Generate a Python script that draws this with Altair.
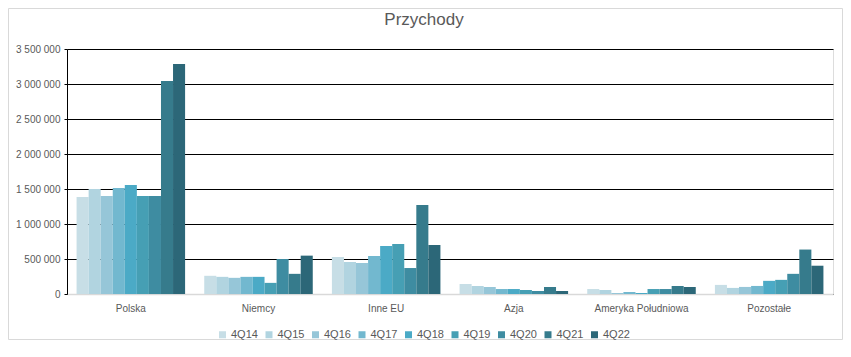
import altair as alt
import pandas as pd

categories = ["Polska", "Niemcy", "Inne EU", "Azja", "Ameryka Południowa", "Pozostałe"]
periods = ["4Q14", "4Q15", "4Q16", "4Q17", "4Q18", "4Q19", "4Q20", "4Q21", "4Q22"]
colors = ["#C7DEE6", "#B1D4E0", "#96C6D8", "#72B8CF", "#4BAAC6", "#469FB4", "#3E8CA1", "#367B8C", "#2C6778"]
title_text = ["Przychody"]

polska = [1386000, 1500000, 1400000, 1514000, 1557000, 1400000, 1400000, 3043000, 3286000]
niemcy = [260000, 245000, 231000, 245000, 245000, 159000, 500000, 288000, 548000]
inne_eu = [529000, 457000, 443000, 543000, 686000, 714000, 371000, 1271000, 700000]
azja = [143000, 114000, 100000, 71000, 71000, 57000, 43000, 100000, 43000]
ameryka = [71000, 57000, 14000, 29000, 14000, 71000, 71000, 114000, 100000]
pozostale = [130000, 87000, 101000, 115000, 188000, 202000, 288000, 635000, 404000]

series = [polska, niemcy, inne_eu, azja, ameryka, pozostale]
rows = []
for cat, vals in zip(categories, series):
    for p, v in zip(periods, vals):
        rows.append({"region": cat, "okres": p, "wartosc": v})
df = pd.DataFrame(rows)

FONT = "Liberation Sans"
GRAY = "#595959"

bars = alt.Chart(df).mark_bar().encode(
    x=alt.X("region:N", sort=categories, title=None,
            scale=alt.Scale(paddingInner=0.15, paddingOuter=0.075),
            axis=alt.Axis(labelAngle=0, ticks=False, domainColor="#D9D9D9", domainWidth=1.5,
                          labelPadding=9, labelFontSize=10, labelColor=GRAY, labelFont=FONT)),
    xOffset=alt.XOffset("okres:N", sort=periods, scale=alt.Scale(paddingInner=0, paddingOuter=0)),
    y=alt.Y("wartosc:Q", title=None,
            scale=alt.Scale(domain=[0, 3500000], nice=False),
            axis=alt.Axis(values=[0, 500000, 1000000, 1500000, 2000000, 2500000, 3000000, 3500000],
                          labelExpr="replace(replace(format(datum.value, ','), ',', ' '), ',', ' ')",
                          grid=True, gridColor="#000000", gridWidth=1,
                          domain=True, domainColor="#000000", domainWidth=1,
                          ticks=True, tickSize=3, tickColor="#000000",
                          labelFontSize=10, labelColor=GRAY, labelFont=FONT, labelPadding=4)),
    color=alt.Color("okres:N", sort=periods,
                    scale=alt.Scale(domain=periods, range=colors),
                    legend=alt.Legend(title=None, orient="none", direction="horizontal",
                                      legendX=150, legendY=280, columns=9,
                                      symbolType="square", symbolSize=49, symbolStrokeWidth=0,
                                      labelFontSize=11, labelColor=GRAY, labelFont=FONT,
                                      labelOffset=3, columnPadding=5.5)),
)

title = alt.Chart(pd.DataFrame({"t": title_text})).mark_text(
    font=FONT, fontSize=17, color=GRAY, align="center", baseline="middle"
).encode(text="t:N", x=alt.value(357), y=alt.value(-29))

border = alt.Chart(pd.DataFrame({"a": [0]})).mark_rect(
    fill=None, stroke="#D9D9D9", strokeWidth=1
).encode(
    x=alt.value(-58.5), x2=alt.value(775.5), y=alt.value(-40.5), y2=alt.value(290.5)
)

chart = alt.layer(bars, title, border).properties(
    width=766, height=245,
    autosize=alt.AutoSizeParams(type="none"),
    padding={"left": 59, "top": 41, "right": 10, "bottom": 55},
).configure_view(stroke=None).configure(background="#FFFFFF")

chart.save("out.html", embed_options={"renderer": "svg", "actions": False})
